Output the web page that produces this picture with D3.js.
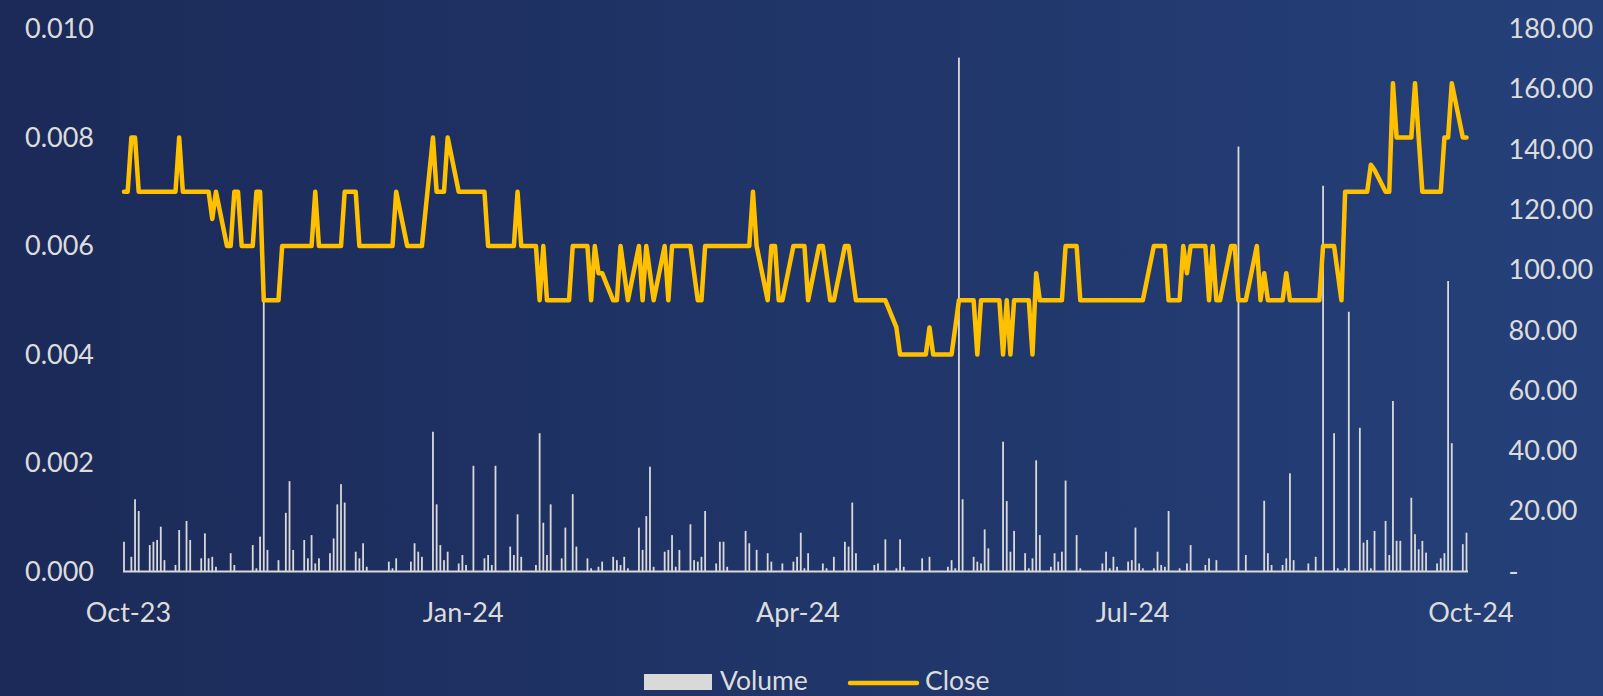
<!DOCTYPE html>
<html>
<head>
<meta charset="utf-8">
<script src="https://cdn.jsdelivr.net/npm/d3@7"></script>
<style>
  html, body { margin: 0; padding: 0; background: #1e3060; }
  svg { display: block; }
  text { font-family: Lato, "Open Sans", sans-serif; fill: #dcdcdc; }
</style>
</head>
<body>
<div id="chart"></div>
<script>
// ---------------- Datos ----------------
// trading days: every weekday from first to last date
const firstDay = new Date(2023, 9, 2);
const lastDay = new Date(2024, 9, 1);

// daily close, one line per week (Mon..Fri)
const close = [
  0.007, 0.007, 0.008, 0.008, 0.007,
  0.007, 0.007, 0.007, 0.007, 0.007,
  0.007, 0.008, 0.007, 0.007, 0.007,
  0.007, 0.007, 0.007, 0.0065, 0.007,
  0.006, 0.006, 0.007, 0.007, 0.006,
  0.006, 0.007, 0.007, 0.005, 0.005,
  0.005, 0.006, 0.006, 0.006, 0.006,
  0.006, 0.006, 0.006, 0.007, 0.006,
  0.006, 0.006, 0.006, 0.006, 0.007,
  0.007, 0.006, 0.006, 0.006, 0.006,
  0.006, 0.006, 0.006, 0.006, 0.007,
  0.006, 0.006, 0.006, 0.006, 0.006,
  0.008, 0.007, 0.007, 0.007, 0.008,
  0.007, 0.007, 0.007, 0.007, 0.007,
  0.007, 0.006, 0.006, 0.006, 0.006,
  0.006, 0.006, 0.007, 0.006, 0.006,
  0.006, 0.005, 0.006, 0.005, 0.005,
  0.005, 0.005, 0.005, 0.006, 0.006,
  0.006, 0.005, 0.006, 0.0055, 0.0055,
  0.005, 0.005, 0.006, 0.0055, 0.005,
  0.006, 0.005, 0.006, 0.0055, 0.005,
  0.006, 0.005, 0.006, 0.006, 0.006,
  0.006, 0.0055, 0.005, 0.005, 0.006,
  0.006, 0.006, 0.006, 0.006, 0.006,
  0.006, 0.006, 0.006, 0.007, 0.006,
  0.005, 0.006, 0.006, 0.005, 0.005,
  0.006, 0.006, 0.006, 0.006, 0.005,
  0.006, 0.006, 0.0055, 0.005, 0.005,
  0.006, 0.006, 0.0055, 0.005, 0.005,
  0.005, 0.005, 0.005, 0.005, 0.005,
  0.0045, 0.004, 0.004, 0.004, 0.004,
  0.004, 0.004, 0.0045, 0.004, 0.004,
  0.004, 0.004, 0.0045, 0.005, 0.005,
  0.005, 0.004, 0.005, 0.005, 0.005,
  0.005, 0.004, 0.005, 0.004, 0.005,
  0.005, 0.005, 0.004, 0.0055, 0.005,
  0.005, 0.005, 0.005, 0.005, 0.006,
  0.006, 0.005, 0.005, 0.005, 0.005,
  0.005, 0.005, 0.005, 0.005, 0.005,
  0.005, 0.005, 0.005, 0.005, 0.005,
  0.006, 0.006, 0.006, 0.006, 0.005,
  0.005, 0.006, 0.0055, 0.006, 0.006,
  0.006, 0.005, 0.006, 0.005, 0.005,
  0.006, 0.006, 0.005, 0.005, 0.005,
  0.006, 0.005, 0.0055, 0.005, 0.005,
  0.005, 0.0055, 0.005, 0.005, 0.005,
  0.005, 0.005, 0.005, 0.005, 0.006,
  0.006, 0.0055, 0.005, 0.007, 0.007,
  0.007, 0.007, 0.007, 0.0075, 0.0074,
  0.007, 0.007, 0.009, 0.008, 0.008,
  0.008, 0.009, 0.008, 0.007, 0.007,
  0.007, 0.007, 0.008, 0.008, 0.009,
  0.008, 0.008
];

// daily volume, same layout
const volume = [
  9.9, 0, 4.9, 24, 20.1,
  8.8, 9.9, 10.5, 14.9, 3.8,
  2.2, 13.8, 0, 16.8, 10.5,
  4.4, 12.7, 4.4, 4.9, 1.6,
  0, 6.1, 2.2, 0, 0,
  8.8, 1.1, 11.6, 93, 7.2,
  3.8, 0, 19.5, 30, 7.2,
  10.5, 4.4, 12.1, 2.7, 4.4,
  6.1, 11, 22.3, 29, 22.9,
  6.6, 4.4, 9.4, 1.6, 0,
  0, 0, 3.3, 1.1, 4.4,
  0, 3.3, 9.4, 6.6, 4.9,
  46.4, 22.3, 8.8, 3.8, 6.6,
  2.7, 5.5, 2.2, 0, 35.1,
  4.4, 5.5, 2.2, 35.1, 0,
  8.3, 5.5, 19, 4.9, 0,
  2.2, 45.9, 16.2, 5.5, 22.3,
  4.4, 14.6, 0, 25.7, 8.3,
  4.4, 1.1, 0, 1.6, 3.3,
  4.9, 3.8, 2.2, 4.9, 1.1,
  14.6, 7.2, 18.4, 34.8, 1.6,
  6.6, 7.2, 12.1, 1.6, 7.2,
  15.7, 3.8, 3.3, 4.9, 20.1,
  2.7, 9.9, 9.9, 1.6, 0,
  0, 13.5, 9.4, 0, 7.2,
  6.1, 3.3, 0, 0, 2.7,
  3.3, 4.9, 12.9, 1.1, 6.1,
  0, 2.7, 1.1, 0, 4.9,
  9.9, 8.3, 22.9, 6.1, 0,
  0, 2.2, 2.7, 0, 10.7,
  1.1, 10.7, 1.6, 0, 0,
  4.4, 0, 4.9, 0, 0,
  1.6, 3.8, 1.1, 170.5, 24,
  4.9, 3.3, 2.7, 14, 7.7,
  0, 43.1, 23.4, 6.6, 13.5,
  6.1, 1.1, 4.4, 36.9, 12.1,
  1.6, 6.1, 3.3, 6.6, 30.2,
  12.1, 1.1, 0, 0, 0,
  2.7, 6.6, 1.1, 4.9, 1.6,
  3.3, 3.8, 14.6, 2.7, 1.1,
  1.1, 6.6, 2.2, 1.6, 20.1,
  1.1, 0, 2.7, 8.8, 0,
  2.2, 4.4, 0, 3.8, 0,
  0, 0, 141, 0, 5.5,
  0, 0, 23.5, 6.1, 2.2,
  2.2, 4.4, 32.6, 3.8, 0,
  2.7, 0, 4.9, 0, 128,
  45.9, 1.1, 0, 1.1, 86.2,
  47.7, 9.6, 10.5, 1.1, 13.5,
  16.8, 5.5, 56.6, 10.2, 10.2,
  24.5, 12.4, 7.4, 10.2, 6.3,
  2.7, 4.4, 6.1, 96.4, 42.6,
  9.1, 12.9
];

const closeTicks = [0, 0.002, 0.004, 0.006, 0.008, 0.010];
const volumeTicks = [0, 20, 40, 60, 80, 100, 120, 140, 160, 180];
const monthTicks = [new Date(2023, 9, 2), new Date(2024, 0, 1), new Date(2024, 3, 1), new Date(2024, 6, 1), new Date(2024, 9, 1)];
const legendNames = ["Volume", "Close"];

// ---------------- Grafico ----------------
const W = 1603, H = 696;
const margin = {top: 29, right: 136.5, bottom: 124.4, left: 124},
    width = W - margin.left - margin.right,
    height = H - margin.top - margin.bottom;

const BAR = "#d9d9d9";
const GOLD = "#ffc000";

const days = d3.timeDay.range(firstDay, d3.timeDay.offset(lastDay, 1))
  .filter(d => d.getDay() !== 0 && d.getDay() !== 6);
const data = days.map((d, i) => ({date: d, close: close[i], volume: volume[i]}));

const svg = d3.select("#chart").append("svg")
    .attr("width", W)
    .attr("height", H);

const grad = svg.append("defs").append("linearGradient")
    .attr("id", "bg").attr("x1", "0").attr("x2", "1").attr("y1", "0").attr("y2", "0");
grad.append("stop").attr("offset", "0%").attr("stop-color", "#1b2a58");
grad.append("stop").attr("offset", "100%").attr("stop-color", "#254079");

svg.append("rect").attr("width", W).attr("height", H).attr("fill", "url(#bg)");

const g = svg.append("g")
    .attr("transform", "translate(" + margin.left + "," + margin.top + ")");

const x = d3.scaleTime().domain([firstDay, lastDay]).range([0, width]);
const yL = d3.scaleLinear().domain([0, 0.010]).range([height, 0]);
const yR = d3.scaleLinear().domain([0, 180]).range([height, 0]);

// barras de volumen
g.selectAll(".bar")
  .data(data.filter(d => d.volume > 0))
  .enter().append("rect")
    .attr("class", "bar")
    .attr("x", d => x(d.date) - 0.9)
    .attr("width", 1.8)
    .attr("y", d => yR(d.volume))
    .attr("height", d => height - yR(d.volume))
    .attr("fill", BAR);

// eje x (linea base)
g.append("line")
  .attr("x1", -1).attr("x2", width + 1.5)
  .attr("y1", height).attr("y2", height)
  .attr("stroke", BAR).attr("stroke-width", 2);

// linea de cierre
const lineGen = d3.line()
  .x(d => x(d.date))
  .y(d => yL(d.close));

g.append("path")
  .datum(data)
  .attr("fill", "none")
  .attr("stroke", GOLD)
  .attr("stroke-width", 4.5)
  .attr("stroke-linejoin", "round")
  .attr("stroke-linecap", "round")
  .attr("d", lineGen);

// ejes
const fontSize = "27px";

const axL = g.append("g")
  .call(d3.axisLeft(yL).tickValues(closeTicks).tickFormat(d3.format(".3f")).tickSize(0).tickPadding(30));
axL.select(".domain").remove();

const axR = g.append("g")
  .attr("transform", "translate(" + width + ",0)")
  .call(d3.axisRight(yR).tickValues(volumeTicks)
    .tickFormat(d => d === 0 ? "-" : d3.format(".2f")(d)).tickSize(0).tickPadding(42));
axR.select(".domain").remove();

const axB = g.append("g")
  .attr("transform", "translate(0," + height + ")")
  .call(d3.axisBottom(x).tickValues(monthTicks).tickFormat(d3.timeFormat("%b-%y")).tickSize(0).tickPadding(31));
axB.select(".domain").remove();
axB.selectAll("text").attr("dx", 4);

svg.selectAll(".tick text")
  .style("font-family", "Lato, 'Open Sans', sans-serif")
  .style("font-size", fontSize)
  .attr("fill", "#dcdcdc");

// leyenda
const leg = svg.append("g");
leg.append("rect")
  .attr("x", 644).attr("y", 674).attr("width", 68).attr("height", 16)
  .attr("fill", BAR);
leg.append("text")
  .attr("x", 720).attr("y", 690)
  .style("font-size", "26.5px")
  .text(legendNames[0]);
leg.append("line")
  .attr("x1", 850).attr("x2", 917).attr("y1", 683).attr("y2", 683)
  .attr("stroke", GOLD).attr("stroke-width", 4.5).attr("stroke-linecap", "round");
leg.append("text")
  .attr("x", 925).attr("y", 690)
  .style("font-size", "26.5px")
  .text(legendNames[1]);
</script>
</body>
</html>
